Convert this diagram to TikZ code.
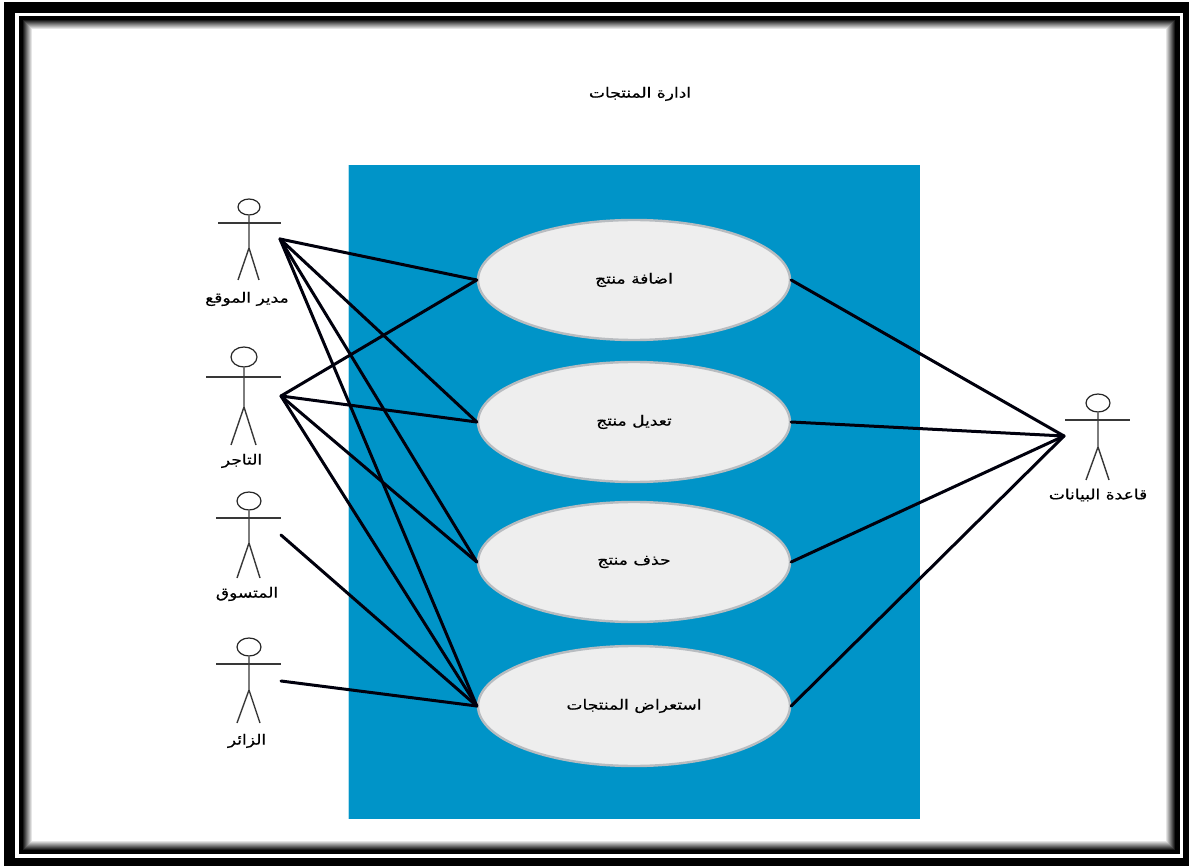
\documentclass[tikz,border=0pt]{standalone}
\usepackage{fontspec}
\newfontfamily\arabicfont[Script=Arabic,FakeStretch=1.22,FakeBold=0.4]{DejaVu Sans}
\TeXXeTstate=1
\usetikzlibrary{shapes.geometric}
\definecolor{panelblue}{HTML}{0094C8}
\definecolor{caseFill}{HTML}{EEEEEE}
\definecolor{caseEdge}{HTML}{B8BCC0}
\newcommand{\ar}[1]{{\arabicfont\fontsize{14}{16}\selectfont\beginR #1\endR}}
\tikzset{
  usecase/.style={ellipse,draw=caseEdge,line width=2.4pt,fill=caseFill,minimum width=312pt,minimum height=120pt,inner sep=0pt},
  head/.style={ellipse,draw=black!85,line width=1.2pt,fill=white,inner sep=0pt},
  limb/.style={draw=black!78,line width=1.4pt},
  link/.style={draw=black!95!blue,line width=3pt,line cap=round},
  caption/.style={inner sep=0pt,text=black}
}
\begin{document}
\begin{tikzpicture}[x=1pt,y=-1pt]
\useasboundingbox (0,0) rectangle (1189,866);
\fill[white] (0,0) rectangle (1189,866);
\fill[black] (4,2) rectangle (1189,866);
\fill[white] (15,13) rectangle (1183,858);
\fill[black] (19,16) rectangle (1180,854);
\foreach \i in {0,...,9}{
  \pgfmathsetmacro{\g}{100-(\i+1)*10}
  \fill[black!\g] ({23+\i},{20+\i}) rectangle ({1175-\i},{850-\i});
}

\node[caption] (title) at (640,94) {\ar{ادارة المنتجات}};
\fill[panelblue] (348,165) rectangle (920,819);
\draw[white!70!panelblue,line width=0.8pt] (348,165) -- (348,819);

\node[usecase] (e1) at (634,280) {\ar{اضافة منتج}};
\node[usecase] (e2) at (634,422) {\ar{تعديل منتج}};
\node[usecase] (e3) at (634,562) {\ar{حذف منتج}};
\node[usecase] (e4) at (634,706) {\ar{استعراض المنتجات}};

% actor 1
\node[head,minimum width=22pt,minimum height=16pt] (a1) at (249,207) {};
\coordinate (a1l) at (218,223); \coordinate (a1r) at (281,223);
\coordinate (a1h) at (249,248); \coordinate (a1f) at (238,280); \coordinate (a1g) at (259,280);
\draw[limb] (a1l) -- (a1r);
\draw[limb] (a1.south) -- (a1h) -- (a1f);
\draw[limb] (a1h) -- (a1g);
\node[caption] (t1) at (247,299) {\ar{مدير الموقع}};
\coordinate (p1) at (280,239);
% actor 2
\node[head,minimum width=26pt,minimum height=20pt] (a2) at (244,357) {};
\coordinate (a2l) at (206,377); \coordinate (a2r) at (281,377);
\coordinate (a2h) at (244,407); \coordinate (a2f) at (231,445); \coordinate (a2g) at (256,445);
\draw[limb] (a2l) -- (a2r);
\draw[limb] (a2.south) -- (a2h) -- (a2f);
\draw[limb] (a2h) -- (a2g);
\node[caption] (t2) at (242,461) {\ar{التاجر}};
\coordinate (p2) at (281,396);
% actor 3
\node[head,minimum width=24pt,minimum height=18pt] (a3) at (249,501) {};
\coordinate (a3l) at (216,518); \coordinate (a3r) at (281,518);
\coordinate (a3h) at (249,543); \coordinate (a3f) at (237,578); \coordinate (a3g) at (260,578);
\draw[limb] (a3l) -- (a3r);
\draw[limb] (a3.south) -- (a3h) -- (a3f);
\draw[limb] (a3h) -- (a3g);
\node[caption] (t3) at (247,594) {\ar{المتسوق}};
\coordinate (p3) at (281,535);
% actor 4
\node[head,minimum width=24pt,minimum height=18pt] (a4) at (249,647) {};
\coordinate (a4l) at (216,664); \coordinate (a4r) at (281,664);
\coordinate (a4h) at (249,690); \coordinate (a4f) at (237,723); \coordinate (a4g) at (260,723);
\draw[limb] (a4l) -- (a4r);
\draw[limb] (a4.south) -- (a4h) -- (a4f);
\draw[limb] (a4h) -- (a4g);
\node[caption] (t4) at (247,741) {\ar{الزائر}};
\coordinate (p4) at (281,681);
% database actor
\node[head,minimum width=24pt,minimum height=18pt] (a5) at (1098,403) {};
\coordinate (a5l) at (1065,420); \coordinate (a5r) at (1130,420);
\coordinate (a5h) at (1098,447); \coordinate (a5f) at (1086,480); \coordinate (a5g) at (1109,480);
\draw[limb] (a5l) -- (a5r);
\draw[limb] (a5.south) -- (a5h) -- (a5f);
\draw[limb] (a5h) -- (a5g);
\node[caption] (t5) at (1098,495) {\ar{قاعدة البيانات}};
\coordinate (p5) at (1064,436);

\foreach \s/\t in {p1/e1,p1/e2,p1/e3,p1/e4,p2/e1,p2/e2,p2/e3,p2/e4,p3/e4,p4/e4}{
  \draw[link] (\s) -- (\t.west);
}
\foreach \t in {e1,e2,e3,e4}{
  \draw[link] (\t.east) -- (p5);
}
\end{tikzpicture}
\end{document}
